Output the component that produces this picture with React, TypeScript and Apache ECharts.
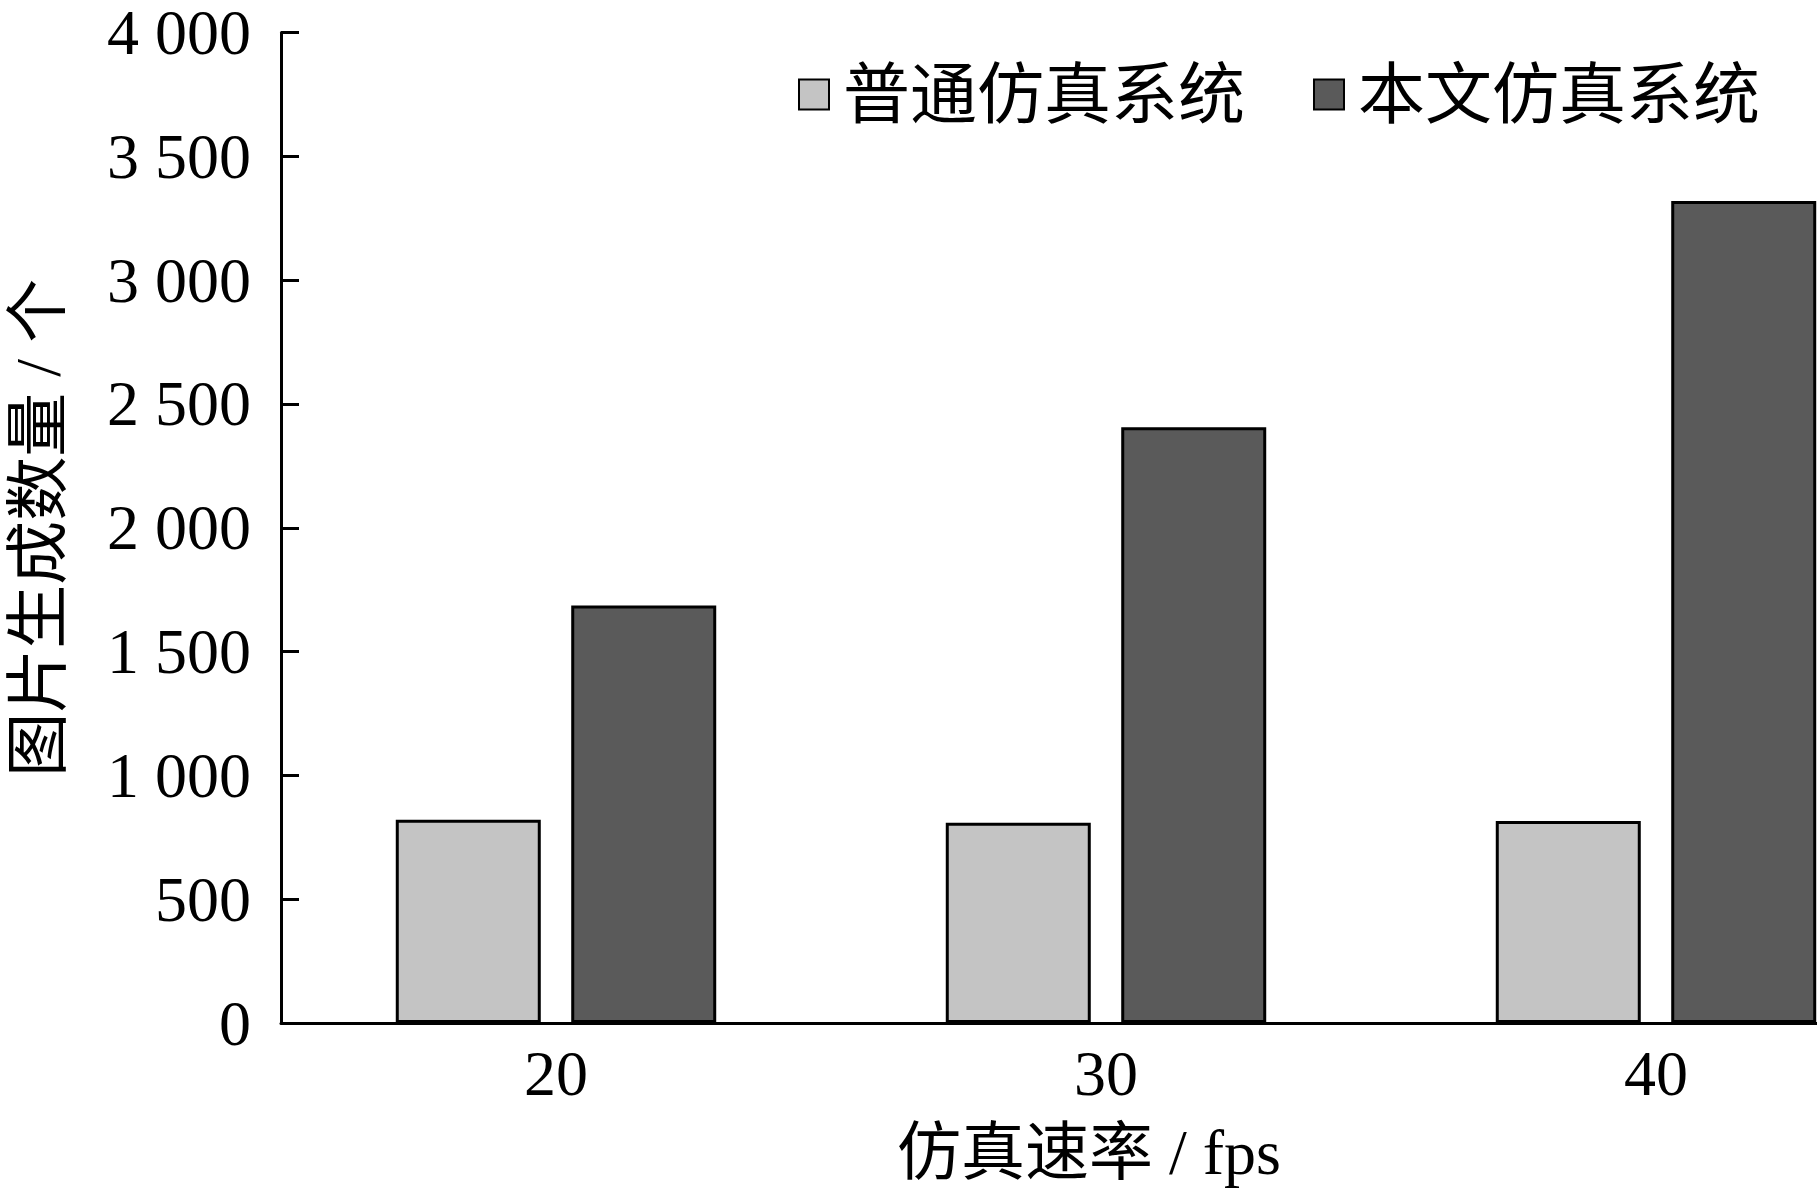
import React, { useEffect, useRef } from "react";
import * as echarts from "echarts";

const categories = ["20", "30", "40"];
const seriesNames = ["普通仿真系统", "本文仿真系统"];
const normalValues = [821, 809, 816];
const oursValues = [1686, 2406, 3320];
const yTicks = [0, 500, 1000, 1500, 2000, 2500, 3000, 3500, 4000];
const yTickLabels = ["0", "500", "1 000", "1 500", "2 000", "2 500", "3 000", "3 500", "4 000"];
const xTitle = "仿真速率 / fps";
const yTitle = "图片生成数量 / 个";

const FONT = "'Liberation Serif', 'Times New Roman', 'Noto Sans CJK SC', serif";

export default function App() {
  const ref = useRef<HTMLDivElement>(null);
  useEffect(() => {
    if (!ref.current) return;
    const chart = echarts.init(ref.current, null, { renderer: "svg" });
    chart.setOption({
      animation: false,
      backgroundColor: "#ffffff",
      textStyle: { fontFamily: FONT, color: "#000" },
      legend: {
        left: 793,
        top: 56,
        itemWidth: 30,
        itemHeight: 30,
        itemGap: 68,
        icon: "rect",
        textStyle: { fontFamily: FONT, fontSize: 67, color: "#000", padding: [0, 0, 0, 9] },
        data: seriesNames,
      },
      grid: {
        left: 281,
        top: 32.5,
        bottom: 174,
        width: 1650,
        containLabel: false,
        outerBoundsMode: "none",
      },
      xAxis: {
        type: "category",
        data: categories,
        name: xTitle,
        nameLocation: "middle",
        nameGap: 97,
        nameTextStyle: { fontFamily: FONT, fontSize: 64, color: "#000", padding: [0, 34, 0, 0] },
        axisLine: { lineStyle: { color: "#000", width: 3 } },
        axisTick: { show: false },
        axisLabel: { fontFamily: FONT, fontSize: 64, color: "#000", margin: 18 },
      },
      yAxis: {
        type: "value",
        min: 0,
        max: 4000,
        interval: 500,
        name: yTitle,
        nameLocation: "middle",
        nameGap: 211,
        nameTextStyle: { fontFamily: FONT, fontSize: 64, color: "#000" },
        axisLine: { show: true, lineStyle: { color: "#000", width: 3 } },
        axisTick: { show: true, inside: true, length: 18, lineStyle: { color: "#000", width: 3 } },
        splitLine: { show: false },
        axisLabel: {
          fontFamily: FONT,
          fontSize: 64,
          lineHeight: 44,
          color: "#000",
          margin: 30,
          formatter: (v: number) => {
            const i = yTicks.indexOf(v);
            return i >= 0 ? yTickLabels[i] : String(v);
          },
        },
      },
      series: [
        {
          name: seriesNames[0],
          type: "bar",
          data: normalValues,
          barWidth: 145,
          barGap: "21%",
          itemStyle: { color: "#c4c4c4", borderColor: "#000", borderWidth: 3 },
        },
        {
          name: seriesNames[1],
          type: "bar",
          data: oursValues,
          barWidth: 145,
          barGap: "21%",
          itemStyle: { color: "#5a5a5a", borderColor: "#000", borderWidth: 3 },
        },
      ],
    });
    return () => chart.dispose();
  }, []);
  return (
    <div
      style={{
        position: "absolute",
        left: 0,
        top: 0,
        width: 1817,
        height: 1197,
        overflow: "hidden",
        background: "#fff",
      }}
    >
      <div ref={ref} style={{ width: 1960, height: 1197 }} />
    </div>
  );
}
